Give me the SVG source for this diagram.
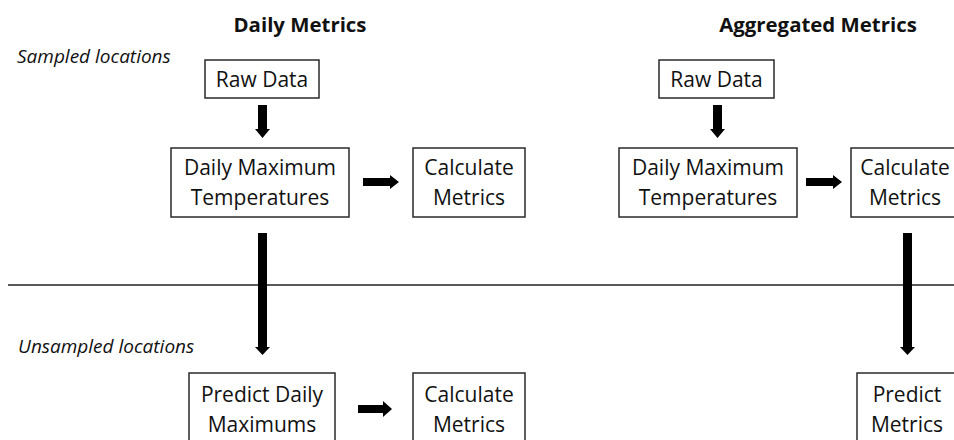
<svg xmlns="http://www.w3.org/2000/svg" width="954" height="440" viewBox="0 0 954 440">
<style>
.box{fill:#fff;stroke:#2a2a2a;stroke-width:1.5}
.t{font-family:"Open Sans","Liberation Sans",sans-serif;font-size:21px;fill:#111;text-anchor:middle}
.h{font-family:"Open Sans","Liberation Sans",sans-serif;font-size:20.4px;font-weight:bold;fill:#111;text-anchor:middle}
.i{font-family:"Open Sans","Liberation Sans",sans-serif;font-size:19px;font-style:italic;fill:#111}
.a{fill:#000}
</style>
<rect width="954" height="440" fill="#fff"/>
<text class="h" x="300" y="32">Daily Metrics</text>
<text class="h" x="818" y="32">Aggregated Metrics</text>
<text class="i" x="17" y="63">Sampled locations</text>
<text class="i" x="18" y="353">Unsampled locations</text>
<g id="connectors">
<line x1="8" y1="285" x2="954" y2="285" stroke="#222" stroke-width="1.5"/>
<polygon class="a" points="258,105 267,105 267,129 270,129 262.5,138 255,129 258,129"/>
<polygon class="a" points="713,105 722,105 722,129 725,129 717.5,138 710,129 713,129"/>
<polygon class="a" points="363,178 390,178 390,175 399,182 390,189 390,186 363,186"/>
<polygon class="a" points="806,178 833,178 833,175 842,182 833,189 833,186 806,186"/>
<polygon class="a" points="258,233 267,233 267,347 270,347 262.5,355 255,347 258,347"/>
<polygon class="a" points="903,233 912,233 912,347 915,347 907.5,355 900,347 903,347"/>
<polygon class="a" points="358,405 383,405 383,401 392,409 383,417 383,413 358,413"/>
</g>
<g id="raw1"><rect class="box" x="205" y="60" width="114" height="38"/><text class="t" x="262" y="87">Raw Data</text></g>
<g id="dmt1"><rect class="box" x="171" y="148" width="178" height="69"/><text class="t" x="260" y="175">Daily Maximum</text><text class="t" x="260" y="205">Temperatures</text></g>
<g id="calc1"><rect class="box" x="413" y="148" width="112" height="69"/><text class="t" x="469" y="175">Calculate</text><text class="t" x="469" y="205">Metrics</text></g>
<g id="raw2"><rect class="box" x="659" y="60" width="115" height="38"/><text class="t" x="716.5" y="87">Raw Data</text></g>
<g id="dmt2"><rect class="box" x="619" y="148" width="178" height="69"/><text class="t" x="708" y="175">Daily Maximum</text><text class="t" x="708" y="205">Temperatures</text></g>
<g id="calc2"><rect class="box" x="851" y="148" width="112" height="69"/><text class="t" x="905" y="175">Calculate</text><text class="t" x="905" y="205">Metrics</text></g>
<g id="pdm"><rect class="box" x="189" y="373" width="146" height="80"/><text class="t" x="262" y="402">Predict Daily</text><text class="t" x="262" y="432">Maximums</text></g>
<g id="calc3"><rect class="box" x="413" y="373" width="112" height="80"/><text class="t" x="469" y="402">Calculate</text><text class="t" x="469" y="432">Metrics</text></g>
<g id="pm"><rect class="box" x="857" y="373" width="110" height="80"/><text class="t" x="907" y="402">Predict</text><text class="t" x="907" y="432">Metrics</text></g>
</svg>
